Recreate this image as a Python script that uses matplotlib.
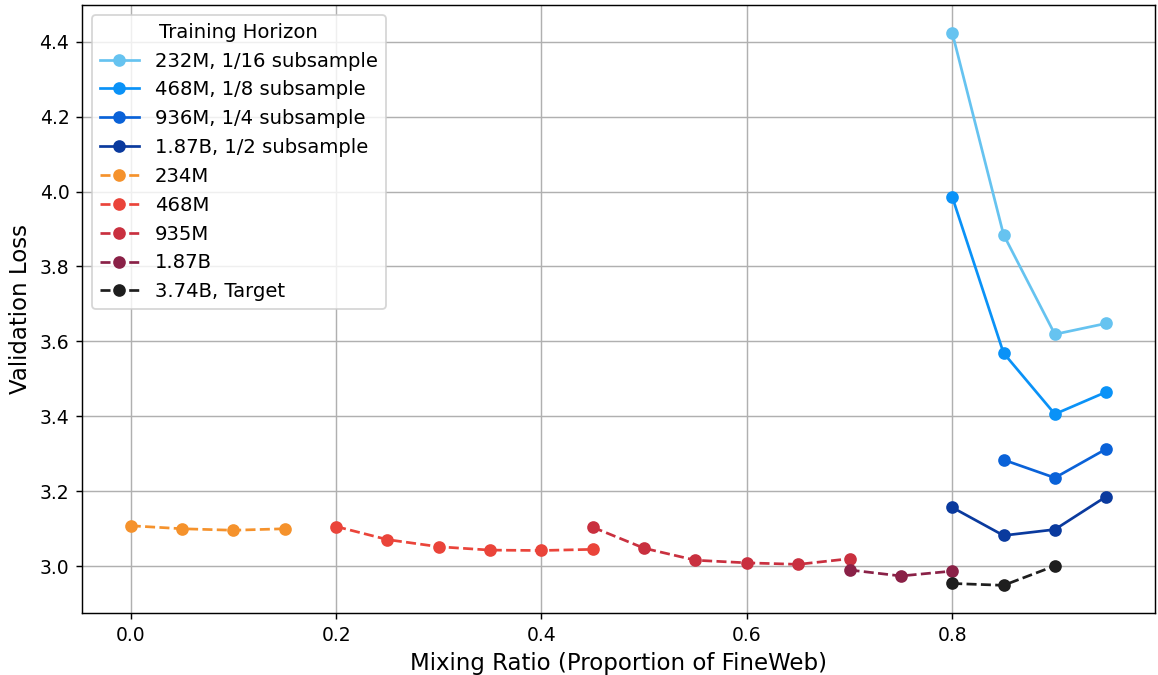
import matplotlib.pyplot as plt

# Subsampled runs (solid lines)
x_sub_232 = [0.80, 0.85, 0.90, 0.95]
y_sub_232 = [4.424, 3.885, 3.619, 3.648]
x_sub_468 = [0.80, 0.85, 0.90, 0.95]
y_sub_468 = [3.986, 3.569, 3.406, 3.465]
x_sub_936 = [0.85, 0.90, 0.95]
y_sub_936 = [3.284, 3.236, 3.313]
x_sub_187 = [0.80, 0.85, 0.90, 0.95]
y_sub_187 = [3.157, 3.082, 3.098, 3.186]

# Full runs (dashed lines)
x_234 = [0.00, 0.05, 0.10, 0.15]
y_234 = [3.108, 3.100, 3.096, 3.100]
x_468 = [0.20, 0.25, 0.30, 0.35, 0.40, 0.45]
y_468 = [3.106, 3.071, 3.052, 3.043, 3.042, 3.045]
x_935 = [0.45, 0.50, 0.55, 0.60, 0.65, 0.70]
y_935 = [3.104, 3.048, 3.016, 3.009, 3.005, 3.020]
x_187 = [0.70, 0.75, 0.80]
y_187 = [2.990, 2.974, 2.987]
x_374 = [0.80, 0.85, 0.90]
y_374 = [2.954, 2.949, 3.001]

DPI = 130
plt.figure(figsize=(1158 / DPI, 675 / DPI), dpi=DPI)
plt.plot(x_sub_232, y_sub_232, marker="o", color="#66C3F0", label="232M, 1/16 subsample")
plt.plot(x_sub_468, y_sub_468, marker="o", color="#0A92F7", label="468M, 1/8 subsample")
plt.plot(x_sub_936, y_sub_936, marker="o", color="#0A62D8", label="936M, 1/4 subsample")
plt.plot(x_sub_187, y_sub_187, marker="o", color="#0A3A9E", label="1.87B, 1/2 subsample")
plt.plot(x_234, y_234, marker="o", linestyle="--", color="#F5922C", label="234M")
plt.plot(x_468, y_468, marker="o", linestyle="--", color="#EA443A", label="468M")
plt.plot(x_935, y_935, marker="o", linestyle="--", color="#C9303F", label="935M")
plt.plot(x_187, y_187, marker="o", linestyle="--", color="#8A2147", label="1.87B")
plt.plot(x_374, y_374, marker="o", linestyle="--", color="#1E1E1E", label="3.74B, Target")

plt.xlabel("Mixing Ratio (Proportion of FineWeb)", fontsize=12.7)
plt.ylabel("Validation Loss", fontsize=12.7)
plt.xticks(fontsize=10.4)
plt.yticks(fontsize=10.4)
plt.grid(True)
plt.legend(title="Training Horizon", fontsize=10.9, title_fontsize=10.9, loc="upper left")
plt.subplots_adjust(left=0.0708, right=0.9974, top=0.9926, bottom=0.0919)
plt.savefig("out.png", dpi=DPI)
